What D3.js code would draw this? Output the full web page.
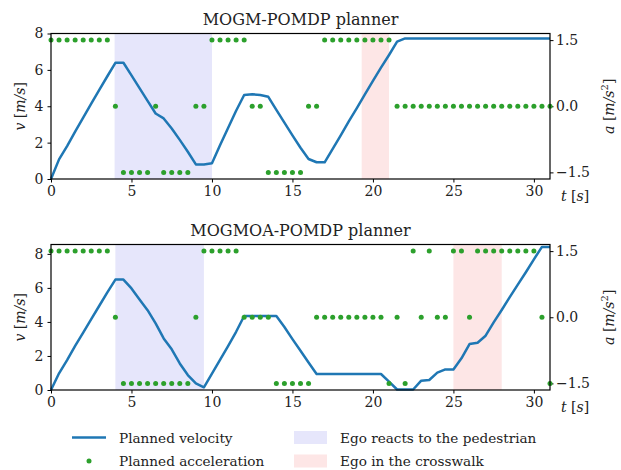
<!DOCTYPE html>
<html>
<head>
<meta charset="utf-8">
<script src="https://cdn.jsdelivr.net/npm/d3@7"></script>
<style>
  body { margin: 0; background: #fff; }
  svg { display: block; }
  text { fill: #222; }
</style>
</head>
<body>
<svg id="chart"></svg>
<script>
// time steps (s)
const times = [0, 0.5, 1, 1.5, 2, 2.5, 3, 3.5, 4, 4.5, 5, 5.5, 6, 6.5, 7, 7.5, 8, 8.5, 9, 9.5,
  10, 10.5, 11, 11.5, 12, 12.5, 13, 13.5, 14, 14.5, 15, 15.5, 16, 16.5, 17, 17.5, 18, 18.5, 19, 19.5,
  20, 20.5, 21, 21.5, 22, 22.5, 23, 23.5, 24, 24.5, 25, 25.5, 26, 26.5, 27, 27.5, 28, 28.5, 29, 29.5,
  30, 30.5, 31];

// MOGM-POMDP planner
const velTop = [0, 1.08, 1.81, 2.6, 3.37, 4.14, 4.9, 5.65, 6.39, 6.39, 5.7, 5.0, 4.3, 3.6, 3.33, 2.78,
  2.15, 1.5, 0.8, 0.8, 0.86, 1.85, 2.8, 3.75, 4.62, 4.66, 4.62, 4.52, 3.8, 3.1, 2.4, 1.72, 1.1, 0.92,
  0.92, 1.66, 2.4, 3.17, 3.9, 4.65, 5.39, 6.12, 6.82, 7.55, 7.73, 7.73, 7.73, 7.73, 7.73, 7.73, 7.73,
  7.73, 7.73, 7.73, 7.73, 7.73, 7.73, 7.73, 7.73, 7.73, 7.73, 7.73, 7.73];
const accTop = [1.5, 1.5, 1.5, 1.5, 1.5, 1.5, 1.5, 1.5, 0, -1.5, -1.5, -1.5, -1.5, 0, -1.5, -1.5,
  -1.5, -1.5, 0, 0, 1.5, 1.5, 1.5, 1.5, 1.5, 0, 0, -1.5, -1.5, -1.5, -1.5, -1.5, 0, 0,
  1.5, 1.5, 1.5, 1.5, 1.5, 1.5, 1.5, 1.5, 1.5, 0, 0, 0, 0, 0, 0, 0, 0,
  0, 0, 0, 0, 0, 0, 0, 0, 0, 0, 0, 0];
const reactTop = [3.95, 10.0];
const crossTop = [19.3, 21.0];

// MOGMOA-POMDP planner
const velBottom = [0, 0.98, 1.76, 2.59, 3.37, 4.17, 4.95, 5.74, 6.49, 6.49, 5.97, 5.32, 4.69, 3.91, 3.03, 2.39,
  1.56, 0.88, 0.39, 0.16, 0.96, 1.77, 2.58, 3.42, 4.35, 4.35, 4.35, 4.35, 4.35, 3.7, 2.99, 2.31, 1.62, 0.94,
  0.94, 0.94, 0.94, 0.94, 0.94, 0.94, 0.94, 0.94, 0.49, 0.03, 0.03, 0.03, 0.55, 0.59, 1.02, 1.21, 1.21,
  1.86, 2.70, 2.78, 3.19, 3.97, 4.70, 5.46, 6.19, 6.92, 7.68, 8.41, 8.41];
const accBottom = [1.5, 1.5, 1.5, 1.5, 1.5, 1.5, 1.5, 1.5, 0, -1.5, -1.5, -1.5, -1.5, -1.5, -1.5, -1.5,
  -1.5, -1.5, 0, 1.5, 1.5, 1.5, 1.5, 1.5, 0, 0, 0, 0, -1.5, -1.5, -1.5, -1.5, -1.5, 0,
  0, 0, 0, 0, 0, 0, 0, 0, -1.5, 0, -1.5, 1.5, 0, 1.5, 0, 0, 1.5,
  1.5, 0, 1.5, 1.5, 1.5, 1.5, 1.5, 1.5, 1.5, 1.5, 0, -1.5];
const reactBottom = [4.0, 9.5];
const crossBottom = [25.0, 28.0];

const tTicks = [0, 5, 10, 15, 20, 25, 30];
const vTicks = [0, 2, 4, 6, 8];
const aTicks = [-1.5, 0, 1.5];

const legendItems = ['Planned velocity', 'Planned acceleration', 'Ego reacts to the pedestrian', 'Ego in the crosswalk'];

const BLUE = '#1f77b4', GREEN = '#2ca02c', REACT = '#e6e6fb', CROSS = '#fde6e6';
const SERIF = 'DejaVu Serif';

const svg = d3.select('#chart').attr('width', 621).attr('height', 470)
    .style('font-family', SERIF);
svg.append('rect').attr('width', 621).attr('height', 470).attr('fill', '#fff');

class PlannerPanel {
    constructor( config ) {
        this.config = config;
        this.init();
    }

    init() {
        let self = this;
        const c = self.config;
        self.g = svg.append('g').attr('transform', `translate(${c.left}, ${c.top})`);
        self.w = c.width;
        self.h = c.height;

        self.xscale = d3.scaleLinear().domain([0, 31]).range([0, self.w]);
        self.vscale = d3.scaleLinear().domain([0, c.vmax]).range([self.h, 0]);
        self.ascale = d3.scaleLinear().domain([-1.65, 1.65]).range([self.h, 0]);
        self.render();
    }

    render() {
        let self = this;
        const c = self.config;

        // shaded intervals
        [[c.react, REACT], [c.cross, CROSS]].forEach(([span, col]) => {
            self.g.append('rect')
                .attr('x', self.xscale(span[0]))
                .attr('y', 0)
                .attr('width', self.xscale(span[1]) - self.xscale(span[0]))
                .attr('height', self.h)
                .attr('fill', col);
        });

        // axes
        const xaxis = d3.axisBottom(self.xscale).tickValues(tTicks).tickSize(3.5).tickPadding(4).tickSizeOuter(0);
        const yaxis = d3.axisLeft(self.vscale).tickValues(vTicks).tickSize(3.5).tickPadding(4).tickSizeOuter(0);
        const aaxis = d3.axisRight(self.ascale).tickValues(aTicks).tickSize(3.5).tickPadding(2.5).tickSizeOuter(0)
            .tickFormat(d => d3.format('.1f')(d).replace('-', '\u2212'));

        const gx = self.g.append('g').attr('transform', `translate(0, ${self.h})`).call(xaxis);
        const gy = self.g.append('g').call(yaxis);
        const ga = self.g.append('g').attr('transform', `translate(${self.w}, 0)`).call(aaxis);
        [gx, gy, ga].forEach(a => {
            a.attr('font-family', null).attr('font-size', 14);
            a.select('.domain').remove();
            a.selectAll('line').attr('stroke', '#000').attr('stroke-width', 1);
            a.selectAll('text').attr('fill', '#222');
        });

        // velocity line
        const line = d3.line()
            .x((d, i) => self.xscale(times[i]))
            .y(d => self.vscale(d));
        self.g.append('path')
            .datum(c.vel)
            .attr('d', line)
            .attr('fill', 'none')
            .attr('stroke', BLUE)
            .attr('stroke-width', 2.5)
            .attr('stroke-linejoin', 'round');

        // acceleration dots
        self.g.selectAll('circle.acc')
            .data(c.acc)
            .join('circle')
            .attr('class', 'acc')
            .attr('cx', (d, i) => self.xscale(times[i]))
            .attr('cy', d => self.ascale(d))
            .attr('r', 2.5)
            .attr('fill', GREEN);

        // frame
        self.g.append('rect')
            .attr('width', self.w).attr('height', self.h)
            .attr('fill', 'none').attr('stroke', '#000').attr('stroke-width', 1.2);

        // title
        self.g.append('text')
            .attr('x', self.w / 2).attr('y', -8.5)
            .attr('text-anchor', 'middle')
            .attr('font-size', 16)
            .text(c.title);

        // labels
        const vlab = self.g.append('text')
            .attr('transform', `translate(-26, ${self.h / 2}) rotate(-90)`)
            .attr('text-anchor', 'middle').attr('font-size', 14);
        vlab.append('tspan').attr('font-style', 'italic').text('v');
        vlab.append('tspan').text(' [');
        vlab.append('tspan').attr('font-style', 'italic').text('m/s');
        vlab.append('tspan').text(']');

        const alab = self.g.append('text')
            .attr('transform', `translate(${self.w + 64}, ${self.h / 2}) rotate(-90)`)
            .attr('text-anchor', 'middle').attr('font-size', 14);
        alab.append('tspan').attr('font-style', 'italic').text('a');
        alab.append('tspan').text(' [');
        alab.append('tspan').attr('font-style', 'italic').text('m/s');
        alab.append('tspan').attr('font-size', 10).attr('dy', -6).text('2');
        alab.append('tspan').attr('dy', 6).text(']');

        const tlab = self.g.append('text')
            .attr('x', self.w + 11).attr('y', self.h + 22).attr('font-size', 14);
        tlab.append('tspan').attr('font-style', 'italic').text('t');
        tlab.append('tspan').text(' [');
        tlab.append('tspan').attr('font-style', 'italic').text('s');
        tlab.append('tspan').text(']');
    }
}

new PlannerPanel({ left: 51, top: 33.5, width: 499, height: 145.5, vmax: 8,
    vel: velTop, acc: accTop, react: reactTop, cross: crossTop, title: 'MOGM-POMDP planner' });
new PlannerPanel({ left: 51, top: 244.5, width: 499, height: 145.5, vmax: 8.55,
    vel: velBottom, acc: accBottom, react: reactBottom, cross: crossBottom, title: 'MOGMOA-POMDP planner' });

// legend
const legend = svg.append('g').attr('font-size', 13.6);
legend.append('line').attr('x1', 72).attr('x2', 106).attr('y1', 437.5).attr('y2', 437.5)
    .attr('stroke', BLUE).attr('stroke-width', 2.5);
legend.append('circle').attr('cx', 89).attr('cy', 461).attr('r', 2.5).attr('fill', GREEN);
legend.append('rect').attr('x', 294).attr('y', 431).attr('width', 33).attr('height', 13).attr('fill', REACT);
legend.append('rect').attr('x', 294).attr('y', 454.5).attr('width', 33).attr('height', 13).attr('fill', CROSS);
const legendPos = [[119, 442.5], [119, 466], [340, 442.5], [340, 466]];
legend.selectAll('text.item')
    .data(legendItems)
    .join('text')
    .attr('class', 'item')
    .attr('x', (d, i) => legendPos[i][0])
    .attr('y', (d, i) => legendPos[i][1])
    .text(d => d);
</script>
</body>
</html>
